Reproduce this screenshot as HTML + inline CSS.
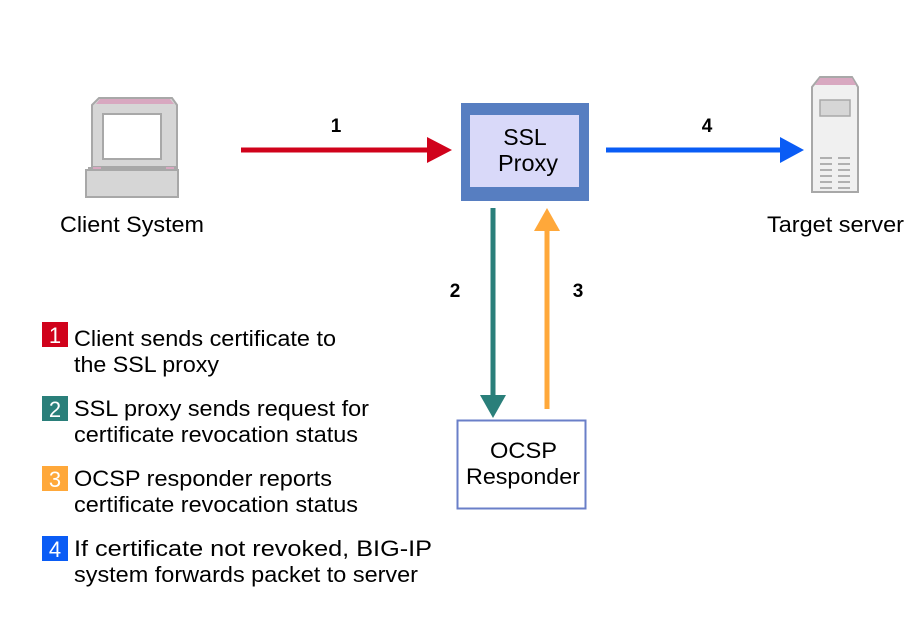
<!DOCTYPE html>
<html><head><meta charset="utf-8"><style>
html,body{margin:0;padding:0;background:#fff;}
svg{display:block;font-family:"Liberation Sans",Arial,sans-serif;}
</style></head><body>
<svg width="913" height="630" viewBox="0 0 913 630" xmlns="http://www.w3.org/2000/svg">
<g>
<polygon points="92,105 99,98 172,98 177,105 177,167 92,167" fill="#d6d6d6" stroke="#a8a8a8" stroke-width="2"/>
<polygon points="100,99 170,99 174,104 96,104" fill="#d8a8c0"/>
<rect x="103" y="114" width="58" height="45" fill="#fff" stroke="#a8a8a8" stroke-width="2"/>
<rect x="86" y="170" width="92" height="27" fill="#d6d6d6" stroke="#a8a8a8" stroke-width="2"/>
<rect x="88" y="167" width="90" height="3" fill="#a8a8a8"/>
<rect x="93" y="167" width="8" height="2" fill="#d8a8c0"/>
<rect x="166" y="167" width="8" height="2" fill="#d8a8c0"/>
</g>
<text x="60" y="232" font-size="22" textLength="144" lengthAdjust="spacingAndGlyphs">Client System</text>

<g>
<polygon points="812,87 820,77 852,77 858,87 858,192 812,192" fill="#f0f0f0" stroke="#a8a8a8" stroke-width="2"/>
<polygon points="820,78 852,78 856,85 815,85" fill="#d8a8c0"/>
<rect x="820" y="100" width="30" height="16" fill="#d6d6d6" stroke="#a8a8a8" stroke-width="1.5"/>
<g stroke="#b0b0b0" stroke-width="2">
<line x1="820" y1="158" x2="832" y2="158"/><line x1="838" y1="158" x2="850" y2="158"/>
<line x1="820" y1="164" x2="832" y2="164"/><line x1="838" y1="164" x2="850" y2="164"/>
<line x1="820" y1="170" x2="832" y2="170"/><line x1="838" y1="170" x2="850" y2="170"/>
<line x1="820" y1="176" x2="832" y2="176"/><line x1="838" y1="176" x2="850" y2="176"/>
<line x1="820" y1="182" x2="832" y2="182"/><line x1="838" y1="182" x2="850" y2="182"/>
<line x1="820" y1="188" x2="832" y2="188"/><line x1="838" y1="188" x2="850" y2="188"/>
</g>
</g>
<text x="767" y="232" font-size="22" textLength="137" lengthAdjust="spacingAndGlyphs">Target server</text>

<rect x="461" y="103" width="128" height="98" fill="#577ec1"/>
<rect x="470" y="115" width="109" height="72" fill="#d9d9f9"/>
<text x="525" y="145" font-size="23" text-anchor="middle">SSL</text>
<text x="498" y="171" font-size="23" textLength="60" lengthAdjust="spacingAndGlyphs">Proxy</text>

<rect x="241" y="147.5" width="190" height="5" fill="#d0021b"/>
<polygon points="427,137 452,150 427,163" fill="#d0021b"/>
<text x="336" y="132" font-size="19" font-weight="bold" text-anchor="middle">1</text>

<rect x="606" y="147.5" width="176" height="5" fill="#0a5cf5"/>
<polygon points="780,137 804,150 780,163" fill="#0a5cf5"/>
<text x="707" y="132" font-size="19" font-weight="bold" text-anchor="middle">4</text>

<rect x="490.5" y="208" width="5" height="190" fill="#2a7f7a"/>
<polygon points="480,395 506,395 493,418" fill="#2a7f7a"/>
<text x="455" y="297" font-size="19" font-weight="bold" text-anchor="middle">2</text>

<rect x="544.5" y="228" width="5" height="181" fill="#ffa83a"/>
<polygon points="534,231 560,231 547,208" fill="#ffa83a"/>
<text x="578" y="297" font-size="19" font-weight="bold" text-anchor="middle">3</text>

<rect x="457.5" y="420.5" width="128" height="88" fill="#fff" stroke="#6a7fc8" stroke-width="2"/>
<text x="490" y="458" font-size="22" textLength="67" lengthAdjust="spacingAndGlyphs">OCSP</text>
<text x="466" y="484" font-size="22" textLength="114" lengthAdjust="spacingAndGlyphs">Responder</text>

<g font-size="22">
<rect x="42" y="322" width="26" height="25" fill="#d0021b"/>
<text x="55" y="343" fill="#fff" text-anchor="middle">1</text>
<text x="74" y="346" textLength="262" lengthAdjust="spacingAndGlyphs">Client sends certificate to</text>
<text x="74" y="372" textLength="145" lengthAdjust="spacingAndGlyphs">the SSL proxy</text>

<rect x="42" y="396" width="26" height="25" fill="#2a7f7a"/>
<text x="55" y="417" fill="#fff" text-anchor="middle">2</text>
<text x="74" y="416" textLength="295" lengthAdjust="spacingAndGlyphs">SSL proxy sends request for</text>
<text x="74" y="442" textLength="284" lengthAdjust="spacingAndGlyphs">certificate revocation status</text>

<rect x="42" y="466" width="26" height="25" fill="#ffa83a"/>
<text x="55" y="487" fill="#fff" text-anchor="middle">3</text>
<text x="74" y="486" textLength="258" lengthAdjust="spacingAndGlyphs">OCSP responder reports</text>
<text x="74" y="512" textLength="284" lengthAdjust="spacingAndGlyphs">certificate revocation status</text>

<rect x="42" y="536" width="26" height="25" fill="#0a5cf5"/>
<text x="55" y="557" fill="#fff" text-anchor="middle">4</text>
<text x="74" y="556" textLength="358" lengthAdjust="spacingAndGlyphs">If certificate not revoked, BIG-IP</text>
<text x="74" y="582" textLength="344" lengthAdjust="spacingAndGlyphs">system forwards packet to server</text>
</g>
</svg>
</body></html>
